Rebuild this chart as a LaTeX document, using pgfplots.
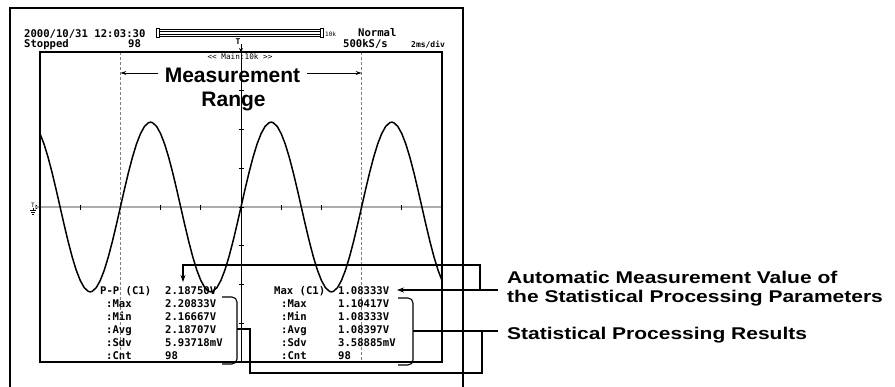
\documentclass[border=0pt]{standalone}
\usepackage{pgfplots}
\pgfplotsset{compat=1.18}
\usepackage{fontspec}
\setmainfont{Liberation Sans}
\setmonofont{DejaVu Sans Mono}
\usepackage{graphicx}
\usetikzlibrary{arrows.meta}
\begin{document}
\begin{tikzpicture}[
  scr/.style={anchor=base west, inner sep=0pt, font=\fontsize{10.6}{12}\selectfont\ttfamily\bfseries},
  scrs/.style={anchor=base west, inner sep=0pt, font=\fontsize{8}{9}\selectfont\ttfamily\bfseries},
  lab/.style={anchor=base west, inner sep=0pt, font=\fontsize{17}{19}\selectfont\bfseries}]
\useasboundingbox (0pt,0pt) rectangle (895pt,-386pt);
\begin{scope}[x=1pt,y=1pt]
% outer screen frame
\draw[line width=1.3pt] (10,-392) -- (10,-8) -- (463,-8) -- (463,-392);
% header
\node[scr] at (24,-37) {2000/10/31 12:03:30};
\node[scr] at (24,-47) {Stopped};
\node[scr] at (128,-47) {98};
\node[scr] at (358,-36) {Normal};
\node[scr] at (343,-47) {500kS/s};
\node[scrs] at (411,-47) {2ms/div};
\node[anchor=base west, inner sep=0pt, font=\fontsize{6}{7}\selectfont\ttfamily] at (325,-36) {10k};
\foreach \yy in {29.3,31.7,34.3,36.7} \draw[line width=0.7pt] (159,-\yy) -- (320,-\yy);
\draw[line width=0.7pt] (156,-28.5) rectangle (159,-37.5);
\draw[line width=0.7pt] (320,-28.5) rectangle (323,-37.5);
% trigger marker
\node[anchor=base, inner sep=0pt, font=\fontsize{8}{9}\selectfont\ttfamily\bfseries] at (238,-44) {T};
\draw[line width=1pt, -{Stealth[length=4pt,width=4pt]}] (241,-44) -- (241,-52);
\node[anchor=base, inner sep=0pt, font=\fontsize{7.7}{9}\selectfont\ttfamily] at (240,-59) {<< Main:10k >>};
% ground marker
\node[anchor=base, inner sep=0pt, font=\fontsize{6}{7}\selectfont\ttfamily] at (33,-207) {T};
\fill (35.5,-204.5) -- (39,-207) -- (35.5,-209.5) -- cycle;
\draw[line width=0.7pt] (33,-208) -- (33,-210) (30,-210) -- (36,-210) (31,-212) -- (35,-212) (32,-214) -- (34,-214);
% graticule centre lines and ticks
\draw[gray!65, line width=1.5pt] (36,-207) -- (442,-207);
\draw[line width=1pt] (241,-52) -- (241,-362);
\foreach \i in {1,...,9} \draw[line width=0.9pt] ({40+40.2*\i},-204.5) -- ++(0,-5);
\foreach \j in {1,...,7} \draw[line width=0.9pt] (238.5,{-52-38.75*\j}) -- ++(5,0);
% measurement cursors
\draw[gray, line width=1pt, dash pattern=on 3pt off 2pt] (120.4,-52) -- (120.4,-362);
\draw[gray, line width=1pt, dash pattern=on 3pt off 2pt] (361.6,-52) -- (361.6,-362);
\end{scope}
% waveform axis
\begin{axis}[at={(40pt,-362pt)}, anchor=south west, scale only axis,
  width=402pt, height=310pt, xmin=0, xmax=10, ymin=-4, ymax=4,
  ticks=none, axis line style={line width=1.2pt}]
\addplot[black, line width=1.5pt, mark=none] coordinates {
(0,1.894)(0.1,1.626)(0.2,1.286)(0.3,0.890)(0.4,0.455)(0.5,0)(0.6,-0.455)(0.7,-0.890)(0.8,-1.286)(0.9,-1.626)
(1.0,-1.894)(1.1,-2.081)(1.2,-2.176)(1.25,-2.19)(1.3,-2.176)(1.4,-2.081)(1.5,-1.894)(1.6,-1.626)(1.7,-1.286)(1.8,-0.890)(1.9,-0.455)
(2.0,0)(2.1,0.455)(2.2,0.890)(2.3,1.286)(2.4,1.626)(2.5,1.894)(2.6,2.081)(2.7,2.176)(2.75,2.19)(2.8,2.176)(2.9,2.081)
(3.0,1.894)(3.1,1.626)(3.2,1.286)(3.3,0.890)(3.4,0.455)(3.5,0)(3.6,-0.455)(3.7,-0.890)(3.8,-1.286)(3.9,-1.626)
(4.0,-1.894)(4.1,-2.081)(4.2,-2.176)(4.25,-2.19)(4.3,-2.176)(4.4,-2.081)(4.5,-1.894)(4.6,-1.626)(4.7,-1.286)(4.8,-0.890)(4.9,-0.455)
(5.0,0)(5.1,0.455)(5.2,0.890)(5.3,1.286)(5.4,1.626)(5.5,1.894)(5.6,2.081)(5.7,2.176)(5.75,2.19)(5.8,2.176)(5.9,2.081)
(6.0,1.894)(6.1,1.626)(6.2,1.286)(6.3,0.890)(6.4,0.455)(6.5,0)(6.6,-0.455)(6.7,-0.890)(6.8,-1.286)(6.9,-1.626)
(7.0,-1.894)(7.1,-2.081)(7.2,-2.176)(7.25,-2.19)(7.3,-2.176)(7.4,-2.081)(7.5,-1.894)(7.6,-1.626)(7.7,-1.286)(7.8,-0.890)(7.9,-0.455)
(8.0,0)(8.1,0.455)(8.2,0.890)(8.3,1.286)(8.4,1.626)(8.5,1.894)(8.6,2.081)(8.7,2.176)(8.75,2.19)(8.8,2.176)(8.9,2.081)
(9.0,1.894)(9.1,1.626)(9.2,1.286)(9.3,0.890)(9.4,0.455)(9.5,0)(9.6,-0.455)(9.7,-0.890)(9.8,-1.286)(9.9,-1.626)(10.0,-1.894)
};
\end{axis}
\begin{scope}[x=1pt,y=1pt]
% Measurement Range label
\node[anchor=base, inner sep=0pt, font=\fontsize{21}{24}\selectfont\bfseries] at (232.5,-82) {Measurement};
\node[anchor=base, inner sep=0pt, font=\fontsize{21}{24}\selectfont\bfseries] at (233.5,-106) {Range};
\draw[line width=1pt, -{Stealth[length=6pt,width=4pt]}] (158,-73) -- (120.4,-73);
\draw[line width=1pt, -{Stealth[length=6pt,width=4pt]}] (307,-73) -- (361.6,-73);
% left measurement block
\node[scr] at (100,-294) {P-P (C1)};
\node[scr] at (165,-294) {2.18750V};
\node[scr] at (106,-307) {:Max};
\node[scr] at (165,-307) {2.20833V};
\node[scr] at (106,-320) {:Min};
\node[scr] at (165,-320) {2.16667V};
\node[scr] at (106,-333) {:Avg};
\node[scr] at (165,-333) {2.18707V};
\node[scr] at (106,-346) {:Sdv};
\node[scr] at (165,-346) {5.93718mV};
\node[scr] at (106,-359) {:Cnt};
\node[scr] at (165,-359) {98};
% right measurement block
\node[scr] at (274,-294) {Max (C1)};
\node[scr] at (338,-294) {1.08333V};
\node[scr] at (281,-307) {:Max};
\node[scr] at (338,-307) {1.10417V};
\node[scr] at (281,-320) {:Min};
\node[scr] at (338,-320) {1.08333V};
\node[scr] at (281,-333) {:Avg};
\node[scr] at (338,-333) {1.08397V};
\node[scr] at (281,-346) {:Sdv};
\node[scr] at (338,-346) {3.58885mV};
\node[scr] at (281,-359) {:Cnt};
\node[scr] at (338,-359) {98};
% brackets
\draw[line width=1.1pt, rounded corners=5pt] (222,-297) -- (237,-297) -- (237,-364) -- (222,-364);
\draw[line width=1.1pt, rounded corners=5pt] (398,-298) -- (413,-298) -- (413,-365) -- (398,-365);
% connectors
\draw[line width=1.1pt, -{Stealth[length=7pt,width=5pt]}] (480,-290) -- (480,-265) -- (183,-265) -- (183,-282);
\draw[line width=1.1pt, -{Stealth[length=7pt,width=5pt]}] (498,-290) -- (397,-290);
\draw[line width=1.1pt] (237,-329) -- (250,-329) -- (250,-373) -- (482,-373) -- (482,-331);
\draw[line width=1.1pt] (413,-331) -- (498,-331);
% right labels
\node[lab] at (507,-283) {\scalebox{1.235}[1]{Automatic Measurement Value of}};
\node[lab] at (507,-302) {\scalebox{1.235}[1]{the Statistical Processing Parameters}};
\node[lab] at (507,-339) {\scalebox{1.235}[1]{Statistical Processing Results}};
\end{scope}
\end{tikzpicture}
\end{document}
